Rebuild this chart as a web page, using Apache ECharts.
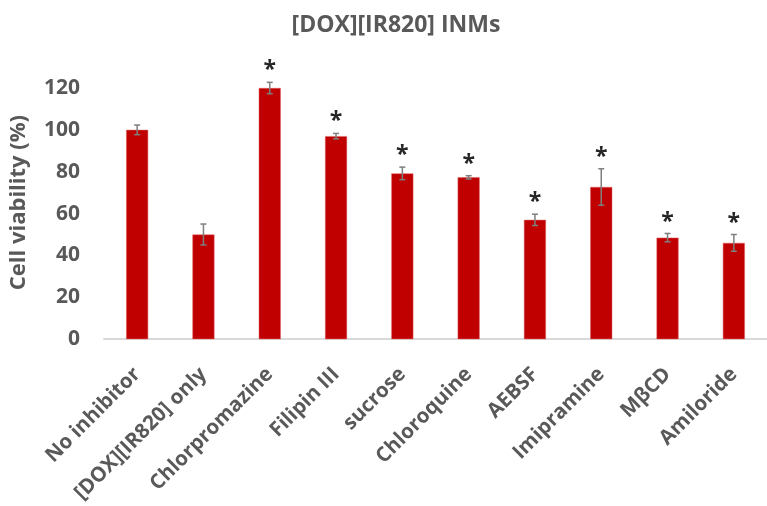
<!DOCTYPE html>
<html>
<head>
<meta charset="utf-8">
<script src="https://cdn.jsdelivr.net/npm/echarts@6/dist/echarts.min.js"></script>
<style>
	html, body { margin: 0; padding: 0; background: #fff; }
	#chart { width: 767px; height: 506px; }
</style>
</head>
<body>
<div id="chart"></div>
<script>
	// 处理组
	var categories = ['No inhibitor', '[DOX][IR820] only', 'Chlorpromazine', 'Filipin III', 'sucrose',
		'Chloroquine', 'AEBSF', 'Imipramine', 'MβCD', 'Amiloride']
	// 细胞存活率 (%)
	var viability = [100, 50, 120, 97, 79.2, 77.3, 57, 72.7, 48.5, 46]
	// 误差 (±)
	var errors = [2.3, 5, 2.7, 1.3, 3, 0.8, 2.7, 8.7, 2, 4]
	// 显著性标记
	var marks = ['', '', '*', '*', '*', '*', '*', '*', '*', '*']
	var yTicks = [0, 20, 40, 60, 80, 100, 120]

	var textColor = '#595959'
	var font = '"Open Sans", Lato, sans-serif'

	var chart = echarts.init(document.getElementById('chart'))

	var errData = viability.map(function (v, i) {
		return [i, v - errors[i], v + errors[i], marks[i]]
	})

	chart.setOption({
		animation: false,
		title: {
			text: '[DOX][IR820] INMs',
			left: 391,
			top: 9,
			textAlign: 'center',
			textStyle: {
				fontFamily: font,
				fontSize: 23,
				fontWeight: 'bold',
				color: textColor
			}
		},
		grid: {
			top: 88,
			bottom: 165,
			left: 102,
			right: -13
		},
		xAxis: {
			type: 'category',
			data: categories,
			axisTick: { show: false },
			axisLine: { lineStyle: { color: '#d9d9d9', width: 2 } },
			axisLabel: {
				interval: 0,
				rotate: 45,
				margin: 32,
				fontFamily: font,
				fontSize: 20.5,
				fontWeight: 'bold',
				color: textColor
			}
		},
		yAxis: {
			type: 'value',
			min: 0,
			max: 120,
			interval: 20,
			name: 'Cell viability (%)',
			nameLocation: 'middle',
			nameRotate: 90,
			nameGap: 74,
			nameTextStyle: {
				fontFamily: font,
				fontSize: 22,
				fontWeight: 'bold',
				color: textColor,
				padding: [0, 0, 0, 22]
			},
			splitLine: { show: false },
			axisLine: { show: false },
			axisTick: { show: false },
			axisLabel: {
				margin: 24,
				fontFamily: font,
				fontSize: 21,
				fontWeight: 'bold',
				color: textColor,
				formatter: function (v) {
					return yTicks.indexOf(v) >= 0 ? String(v) : ''
				}
			}
		},
		series: [{
			type: 'bar',
			data: viability,
			barWidth: 22,
			itemStyle: {
				color: '#c00000',
				borderColor: '#e06060',
				borderWidth: 0.5
			}
		}, {
			type: 'custom',
			data: errData,
			z: 10,
			renderItem: function (params, api) {
				var x = api.value(0)
				var lo = api.coord([x, api.value(1)])
				var hi = api.coord([x, api.value(2)])
				var w = 3
				var style = { stroke: '#7f7f7f', lineWidth: 1.5 }
				var children = [
					{ type: 'line', shape: { x1: hi[0], y1: hi[1], x2: lo[0], y2: lo[1] }, style: style },
					{ type: 'line', shape: { x1: hi[0] - w, y1: hi[1], x2: hi[0] + w, y2: hi[1] }, style: style },
					{ type: 'line', shape: { x1: lo[0] - w, y1: lo[1], x2: lo[0] + w, y2: lo[1] }, style: style }
				]
				var m = api.value(3)
				if (m) {
					children.push({
						type: 'text',
						style: {
							text: m,
							x: hi[0],
							y: hi[1],
							align: 'center',
							verticalAlign: 'bottom',
							fontFamily: font,
							fontSize: 23,
							fontWeight: 'bold',
							fill: '#262626'
						}
					})
				}
				return { type: 'group', children: children }
			}
		}]
	})
</script>
</body>
</html>
